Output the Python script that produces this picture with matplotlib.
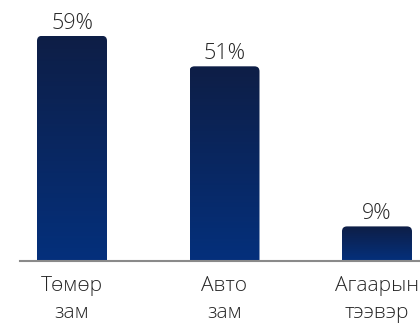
import numpy as np
import matplotlib.pyplot as plt
from matplotlib.patches import FancyBboxPatch
from matplotlib.colors import LinearSegmentedColormap

plt.rcParams['font.family'] = ['Open Sans', 'Noto Sans', 'DejaVu Sans']
plt.rcParams['font.weight'] = 'light'

categories = ['Төмөр\nзам', 'Авто\nзам', 'Агаарын\nтээвэр']
values = [59, 51, 9]

text_color = '#262626'
grad = LinearSegmentedColormap.from_list('bar', ['#04307c', '#0e1e46'])

fig = plt.figure(figsize=(4.2, 3.26), dpi=100)
ax = fig.add_axes([20 / 420, 65.3 / 326, 400 / 420, 260.7 / 326])
ax.set_xlim(-0.341, 2.282)
ax.set_ylim(0, 68.4)

x = np.arange(len(values))
width = 0.459
bars = ax.bar(x, values, width=width, color='none', edgecolor='none')

# rounded top corners, same pixel radius in x and y
fig.canvas.draw()
p0 = ax.transData.transform((0, 0))
p1 = ax.transData.transform((1, 1))
aspect = (p1[0] - p0[0]) / (p1[1] - p0[1])
r = 5 / (p1[0] - p0[0])

g = np.linspace(0, 1, 256).reshape(-1, 1)
for b in bars:
    bx, bw, bh = b.get_x(), b.get_width(), b.get_height()
    clip = FancyBboxPatch((bx, -r * aspect * 2), bw, bh + r * aspect * 2,
                          boxstyle=f'round,pad=0,rounding_size={r}',
                          mutation_aspect=aspect, transform=ax.transData,
                          facecolor='none', edgecolor='none')
    ax.add_patch(clip)
    im = ax.imshow(g, cmap=grad, extent=(bx, bx + bw, 0, bh), origin='lower',
                   aspect='auto', interpolation='bilinear', zorder=2)
    im.set_clip_path(clip)
    ax.annotate(f'{int(bh)}%', (bx + bw / 2, bh), xytext=(0, 5),
                textcoords='offset points', ha='center', va='baseline',
                fontsize=15.5, color=text_color)

ax.set_xlim(-0.341, 2.282)
ax.set_ylim(0, 68.4)

for s in ['top', 'right', 'left']:
    ax.spines[s].set_visible(False)
ax.spines['bottom'].set_color('#8a8a8a')
ax.spines['bottom'].set_linewidth(1.5)
ax.set_yticks([])
ax.set_xticks(x)
ax.set_xticklabels(categories, fontsize=15, color=text_color, linespacing=1.5)
for lbl in ax.get_xticklabels():
    lbl.set_multialignment('center')
ax.tick_params(axis='x', length=0, pad=11)

fig.savefig('out.png', dpi=100)
